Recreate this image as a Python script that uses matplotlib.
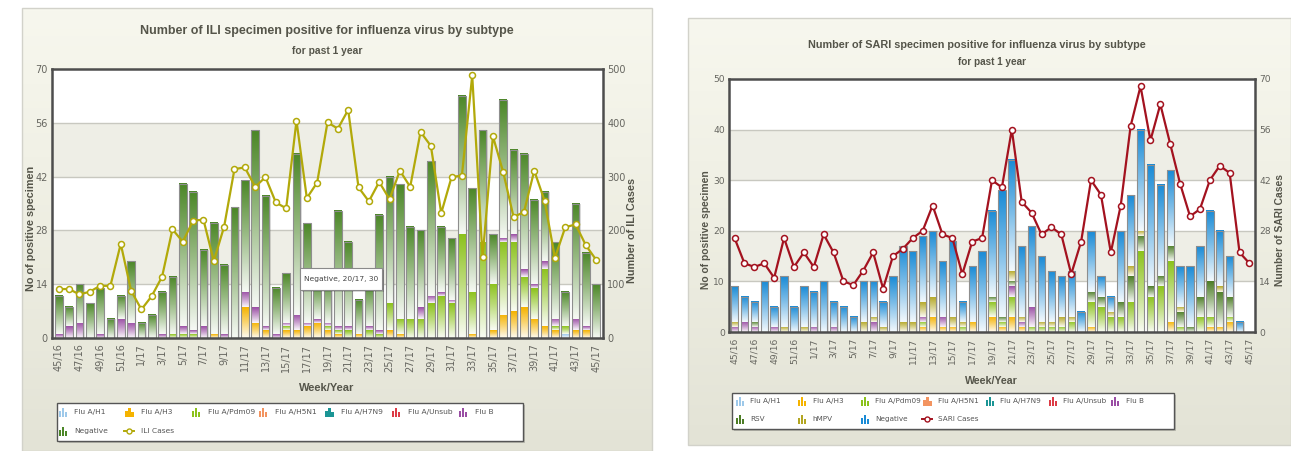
import numpy as np
import matplotlib
matplotlib.use('Agg')
import matplotlib.pyplot as plt
from matplotlib.colors import LinearSegmentedColormap, to_rgb
from matplotlib.patches import Rectangle

plt.rcParams['font.family'] = ['DejaVu Sans']

W, H = 1291, 451

weeks = ['45/16', '46/16', '47/16', '48/16', '49/16', '50/16', '51/16', '52/16',
         '1/17', '2/17', '3/17', '4/17', '5/17', '6/17', '7/17', '8/17', '9/17',
         '10/17', '11/17', '12/17', '13/17', '14/17', '15/17', '16/17', '17/17',
         '18/17', '19/17', '20/17', '21/17', '22/17', '23/17', '24/17', '25/17',
         '26/17', '27/17', '28/17', '29/17', '30/17', '31/17', '32/17', '33/17',
         '34/17', '35/17', '36/17', '37/17', '38/17', '39/17', '40/17', '41/17',
         '42/17', '43/17', '44/17', '45/17']
zeros = [0] * len(weeks)

# ILI chart
ili_h1 = [0, 0, 0, 0, 0, 0, 0, 0, 0, 0, 0, 0, 0, 0, 0, 0, 0, 0, 0, 0,
          0, 0, 0, 0, 0, 0, 0, 0, 0, 0, 0, 0, 0, 0, 0, 0, 0, 0, 0, 0,
          0, 0, 0, 0, 0, 0, 0, 0, 0, 1, 0, 0, 0]
ili_h3 = [0, 0, 0, 0, 0, 0, 0, 0, 0, 0, 0, 0, 0, 0, 0, 1, 0, 0, 8, 4,
          2, 0, 2, 2, 3, 4, 2, 1, 0, 1, 0, 0, 2, 1, 0, 0, 0, 0, 0, 0,
          1, 0, 2, 6, 7, 8, 5, 3, 2, 0, 2, 2, 0]
ili_pdm09 = [0, 0, 0, 0, 0, 0, 0, 0, 0, 0, 0, 1, 1, 1, 0, 0, 0, 0, 0, 0,
             0, 0, 1, 0, 0, 0, 1, 1, 2, 0, 2, 1, 7, 4, 5, 5, 9, 11, 9, 27,
             11, 25, 12, 19, 18, 8, 8, 15, 1, 2, 0, 0, 0]
ili_b = [1, 3, 4, 0, 1, 0, 5, 4, 0, 0, 1, 0, 2, 1, 3, 0, 1, 0, 4, 4,
         1, 1, 1, 4, 1, 1, 1, 1, 1, 0, 1, 1, 0, 0, 0, 3, 2, 1, 1, 0,
         0, 0, 0, 1, 2, 2, 1, 2, 2, 0, 3, 1, 0]
ili_negative = [10, 5, 10, 9, 12, 5, 6, 16, 4, 6, 11, 15, 37, 36, 20, 29, 18, 34, 29, 46,
                34, 12, 13, 42, 26, 10, 12, 30, 22, 9, 11, 30, 33, 35, 24, 20, 35, 17, 16, 36,
                27, 29, 13, 36, 22, 30, 22, 18, 20, 9, 30, 19, 14]
ili_cases = [91, 91, 81, 86, 97, 97, 175, 88, 53, 78, 114, 202, 179, 218, 220, 143, 207, 314, 317, 281,
             299, 252, 241, 404, 260, 289, 401, 389, 424, 280, 254, 290, 258, 311, 281, 383, 357, 232, 299, 302,
             488, 150, 375, 308, 225, 234, 311, 255, 149, 206, 211, 172, 145]

# SARI chart
sari_h3 = [0, 0, 0, 0, 0, 0, 0, 0, 0, 0, 0, 0, 0, 0, 0, 0, 0, 0, 0, 1,
           3, 1, 1, 0, 2, 0, 3, 1, 3, 1, 0, 0, 0, 0, 0, 0, 1, 0, 0, 0,
           0, 0, 0, 0, 2, 0, 0, 0, 1, 1, 2, 0, 0]
sari_pdm09 = [0, 0, 0, 0, 0, 0, 0, 0, 0, 0, 0, 0, 0, 0, 0, 0, 0, 0, 0, 1,
              0, 0, 0, 1, 0, 0, 3, 1, 4, 0, 1, 1, 1, 1, 2, 0, 5, 5, 3, 3,
              6, 16, 7, 9, 12, 1, 0, 3, 2, 0, 1, 0, 0]
sari_b = [1, 2, 1, 0, 1, 0, 0, 0, 1, 0, 1, 0, 0, 0, 2, 0, 0, 0, 0, 1,
          0, 2, 0, 0, 0, 0, 0, 0, 2, 1, 4, 0, 0, 0, 0, 0, 0, 0, 0, 0,
          0, 0, 0, 0, 0, 0, 0, 0, 0, 0, 0, 0, 0]
sari_rsv = [0, 0, 1, 0, 0, 0, 0, 0, 0, 0, 0, 0, 0, 0, 0, 0, 0, 0, 0, 0,
            0, 0, 0, 0, 0, 0, 1, 1, 1, 0, 0, 0, 0, 0, 0, 0, 2, 2, 0, 3,
            5, 3, 2, 2, 3, 3, 1, 4, 7, 7, 4, 0, 0]
sari_hmpv = [1, 0, 0, 0, 0, 1, 0, 1, 0, 0, 0, 0, 0, 2, 1, 1, 0, 2, 2, 3,
             4, 0, 2, 1, 0, 0, 0, 0, 2, 1, 0, 1, 1, 2, 1, 0, 0, 0, 1, 0,
             2, 1, 0, 0, 0, 1, 0, 0, 0, 1, 0, 0, 0]
sari_negative = [7, 5, 4, 10, 4, 10, 5, 8, 7, 10, 5, 5, 3, 8, 7, 5, 11, 15, 14, 13,
                 13, 11, 15, 4, 11, 16, 17, 25, 22, 14, 16, 13, 10, 8, 9, 4, 12, 4, 3, 14,
                 14, 20, 24, 18, 15, 8, 12, 10, 14, 11, 8, 2, 0]
sari_cases = [26, 19, 18, 19, 15, 26, 18, 22, 18, 27, 22, 14, 13, 17, 22, 12, 21, 23, 26, 28,
              35, 27, 26, 16, 25, 26, 42, 40, 56, 36, 33, 27, 29, 27, 16, 25, 42, 38, 22, 35,
              57, 68, 53, 63, 52, 41, 32, 34, 42, 46, 44, 22, 19]

C = {'Flu A/H1': '#9ec9ea', 'Flu A/H3': '#f5b300', 'Flu A/Pdm09': '#8cc21c',
     'Flu A/H5N1': '#f39460', 'Flu A/H7N9': '#1b9595', 'Flu A/Unsub': '#dd3b46',
     'Flu B': '#9a4ea4', 'RSV': '#4d7d26', 'hMPV': '#b3a622'}
ILI_NEG = '#4c8728'
SARI_NEG = '#1a8bd6'
ILI_LINE = '#b2a90a'
SARI_LINE = '#a3121f'
TXT = '#55554a'
TICK = '#666660'

GRAD = np.linspace(0, 1, 64).reshape(-1, 1)


def mix(c, t):
    r = np.array(to_rgb(c))
    return tuple(r * (1 - t) + t)


def grad_cmap(c):
    return LinearSegmentedColormap.from_list('g', [(0, mix(c, 0.95)), (0.5, mix(c, 0.45)), (1, mix(c, 0))])


def draw_stack(ax, series, colors, width=0.74):
    n = len(series[0])
    bottoms = np.zeros(n)
    for vals, col in zip(series, colors):
        vals = np.asarray(vals, float)
        cmap = grad_cmap(col)
        for i, v in enumerate(vals):
            if v > 0:
                ax.imshow(GRAD, cmap=cmap, origin='lower', aspect='auto', interpolation='bilinear',
                          extent=(i - width / 2, i + width / 2, bottoms[i], bottoms[i] + v), zorder=2)
        bottoms += vals
    x = np.arange(n)
    ax.bar(x + 0.13, bottoms, width, color='#000000', alpha=0.13, lw=0, zorder=1.8)
    ax.bar(x, bottoms, width, fill=False, edgecolor='#8e8e8e', lw=0.8, zorder=3)


def setup_chart(rect, ymax, ystep, y2max, y2step, bands, cases, line_col, tick_fs):
    l, t, r, b = rect
    ax = fig.add_axes([l / W, 1 - b / H, (r - l) / W, (b - t) / H])
    ax.set_facecolor('white')
    for lo, hi in bands:
        ax.axhspan(lo, hi, color='#eeeee6', lw=0, zorder=0)
    for yv in np.arange(ystep, ymax, ystep):
        ax.axhline(yv, color='#c8c8c0', lw=1.0, zorder=0.5)
    ax2 = ax.twinx()
    ax2.plot(np.arange(len(cases)), cases, color=line_col, lw=1.6, marker='o', ms=4.3,
             mfc='white', mec=line_col, mew=1.1, zorder=4)
    ax2.set_ylim(0, y2max)
    ax2.set_yticks(np.arange(0, y2max + 1, y2step))
    ax2.tick_params(length=0, pad=3, labelsize=tick_fs, labelcolor=TICK)
    for s in ax2.spines.values():
        s.set_visible(False)
    ax.set_ylim(0, ymax)
    ax.set_yticks(np.arange(0, ymax + 1, ystep))
    ax.set_xticks(np.arange(0, len(weeks), 2))
    ax.set_xticklabels(weeks[::2], rotation=90)
    ax.tick_params(length=0, pad=3, labelsize=tick_fs, labelcolor=TICK)
    ax.tick_params(axis='x', pad=4)
    for s in ax.spines.values():
        s.set_color('#4d4d4d')
        s.set_linewidth(1.8)
        s.set_zorder(5)
    return ax, ax2


fig = plt.figure(figsize=(W / 100, H / 100), dpi=100)

# panel backgrounds
bg = fig.add_axes([0, 0, 1, 1], zorder=-1)
pgrad = np.linspace(0, 1, 128).reshape(-1, 1)
pcmap = LinearSegmentedColormap.from_list('p', ['#f7f7ee', '#eeeee2', '#e3e3d6'])
for x0, y0, x1, y1 in [(22, 8, 652, 451), (688, 18, 1291, 445)]:
    bg.imshow(pgrad, cmap=pcmap, aspect='auto', origin='upper', extent=(x0, x1, y1, y0))
    bg.add_patch(Rectangle((x0, y0), x1 - x0, y1 - y0, fill=False, ec='#d2d2ca', lw=1))
bg.set_xlim(0, W)
bg.set_ylim(H, 0)
bg.axis('off')

# ILI chart
ax_i, ax_i2 = setup_chart((52, 69, 603, 338), 70, 14, 500, 100, [(14, 28), (42, 56)],
                          ili_cases, ILI_LINE, 7)
draw_stack(ax_i, [ili_h1, ili_h3, ili_pdm09, zeros, zeros, zeros, ili_b, ili_negative],
           [C['Flu A/H1'], C['Flu A/H3'], C['Flu A/Pdm09'], C['Flu A/H5N1'], C['Flu A/H7N9'],
            C['Flu A/Unsub'], C['Flu B'], ILI_NEG])
ax_i.set_xlim(-0.65, 52.65)
ax_i.set_ylim(0, 70)

# SARI chart
ax_s, ax_s2 = setup_chart((729, 79, 1255, 332), 50, 10, 70, 14, [(10, 20), (30, 40)],
                          sari_cases, SARI_LINE, 6.6)
draw_stack(ax_s, [zeros, sari_h3, sari_pdm09, zeros, zeros, zeros, sari_b, sari_rsv, sari_hmpv,
                  sari_negative],
           [C['Flu A/H1'], C['Flu A/H3'], C['Flu A/Pdm09'], C['Flu A/H5N1'], C['Flu A/H7N9'],
            C['Flu A/Unsub'], C['Flu B'], C['RSV'], C['hMPV'], SARI_NEG])
ax_s.set_xlim(-0.56, 52.56)
ax_s.set_ylim(0, 50)

# overlay for titles, legends, tooltip
ov = fig.add_axes([0, 0, 1, 1], zorder=10)
ov.set_xlim(0, W)
ov.set_ylim(H, 0)
ov.axis('off')
ov.patch.set_alpha(0)

bold = dict(family='Liberation Sans', weight='bold', color=TXT, ha='center', va='center')
ov.text(327, 31, 'Number of ILI specimen positive for influenza virus by subtype', fontsize=9, **bold)
ov.text(327, 51, 'for past 1 year', fontsize=7.4, **bold)
ov.text(31, 228, 'No of positive specimen', rotation=90, fontsize=7.8, **bold)
ov.text(632, 230, 'Number of ILI Cases', rotation=90, fontsize=7.8, **bold)
ov.text(327, 388, 'Week/Year', fontsize=8, **bold)

ov.text(977, 45, 'Number of SARI specimen positive for influenza virus by subtype', fontsize=7.8, **bold)
ov.text(992, 62, 'for past 1 year', fontsize=7.2, **bold)
ov.text(706, 230, 'No of positive specimen', rotation=90, fontsize=7.4, **bold)
ov.text(1280, 230, 'Number of SARI Cases', rotation=90, fontsize=7.4, **bold)
ov.text(991, 381, 'Week/Year', fontsize=7.7, **bold)

# tooltip
ov.add_patch(Rectangle((302, 270), 82, 22, color='#000000', alpha=0.15, lw=0))
ov.add_patch(Rectangle((300, 268), 82, 22, facecolor='white', edgecolor='#8a8a8a', lw=0.8))
ov.text(341, 279.5, 'Negative, 20/17, 30', fontsize=5.4, color='#444444', ha='center', va='center')


def bar_icon(x, y, col):
    for dx, h in [(0, 6), (3, 9), (6, 5)]:
        ov.add_patch(Rectangle((x + dx, y + 4.5 - h), 2.3, h, color=col, lw=0))


def line_icon(x, y, col):
    ov.plot([x, x + 10], [y, y], color=col, lw=1.4)
    ov.plot([x + 5], [y], 'o', ms=3.6, mfc='white', mec=col, mew=1)


def legend(box, rows, x0, step, tdx, fs):
    bx0, by0, bx1, by1 = box
    ov.add_patch(Rectangle((bx0 + 2, by0 + 2), bx1 - bx0, by1 - by0, color='#000000', alpha=0.18, lw=0))
    ov.add_patch(Rectangle((bx0, by0), bx1 - bx0, by1 - by0, facecolor='white', edgecolor='#555555', lw=1))
    for y, items in rows:
        for k, (label, col, kind) in enumerate(items):
            x = x0 + k * step
            if kind == 'bar':
                bar_icon(x, y, col)
            else:
                line_icon(x - 1, y, col)
            ov.text(x + tdx, y, label, fontsize=fs, color='#555555', ha='left', va='center')


flu = ['Flu A/H1', 'Flu A/H3', 'Flu A/Pdm09', 'Flu A/H5N1', 'Flu A/H7N9', 'Flu A/Unsub', 'Flu B']
legend((57, 403, 523, 441),
       [(412, [(k, C[k], 'bar') for k in flu]),
        (431, [('Negative', ILI_NEG, 'bar'), ('ILI Cases', ILI_LINE, 'line')])],
       58.5, 66.7, 16, 5.4)
legend((732, 393, 1174, 429),
       [(401, [(k, C[k], 'bar') for k in flu]),
        (419, [('RSV', C['RSV'], 'bar'), ('hMPV', C['hMPV'], 'bar'),
               ('Negative', SARI_NEG, 'bar'), ('SARI Cases', SARI_LINE, 'line')])],
       735.5, 62.6, 14.5, 5.2)

fig.savefig('out.png', dpi=100)
